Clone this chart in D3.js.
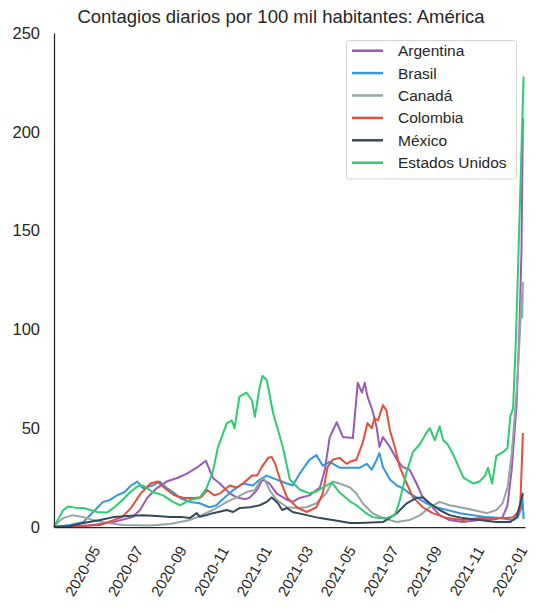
<!DOCTYPE html>
<html>
<head>
<meta charset="utf-8">
<script src="https://cdn.jsdelivr.net/npm/d3@7"></script>
<style>
  html, body { margin: 0; padding: 0; background: #fff; }
  svg { display: block; font-family: "Liberation Sans", Arial, sans-serif; }
</style>
</head>
<body>
<svg id="chart" width="537" height="613"></svg>
<script>
// ---------- DATA ----------
const title = "Contagios diarios por 100 mil habitantes: América";
const countries = ["Argentina", "Brasil", "Canadá", "Colombia", "México", "Estados Unidos"];
const colors = ["#9b59b6", "#3498db", "#95a5a6", "#e74c3c", "#34495e", "#2ecc71"];
const yTicks = [0, 50, 100, 150, 200, 250];
const xTickLabels = ["2020-05","2020-07","2020-09","2020-11","2021-01","2021-03","2021-05","2021-07","2021-09","2021-11","2022-01"];
const dateRange = ["2020-03-22", "2022-01-24"];

const argentina = [
  ["2020-03-22",0],["2020-04-20",0.3],["2020-05-10",0.8],["2020-05-27",1.5],["2020-06-15",2.5],["2020-07-12",5],
  ["2020-07-23",8.6],["2020-08-02",14.7],["2020-08-16",19.7],["2020-08-30",23],["2020-09-14",24.8],["2020-09-28",27],
  ["2020-10-12",30],["2020-10-25",33.5],["2020-10-29",30],["2020-11-04",24.8],["2020-11-14",22],["2020-11-28",17],
  ["2020-12-08",15],["2020-12-20",14],["2020-12-27",15],["2021-01-06",18.7],["2021-01-14",24],["2021-01-24",22],
  ["2021-02-03",17],["2021-02-18",13.7],["2021-02-26",12.7],["2021-03-08",14.7],["2021-03-22",16],["2021-04-06",20],
  ["2021-04-13",29],["2021-04-20",45.5],["2021-04-30",53],["2021-05-09",45.5],["2021-05-23",45],["2021-05-30",73],
  ["2021-06-05",68],["2021-06-09",73],["2021-06-13",66],["2021-06-20",59],["2021-06-26",50.6],["2021-06-30",40.5],
  ["2021-07-05",45.5],["2021-07-15",40.5],["2021-07-25",34],["2021-08-02",30.4],["2021-08-12",29],["2021-08-22",22],
  ["2021-08-31",15],["2021-09-14",10],["2021-09-24",6],["2021-10-08",3.5],["2021-10-27",2.5],["2021-11-20",3.5],
  ["2021-12-14",4],["2021-12-23",5],["2021-12-30",11],["2022-01-05",29],["2022-01-12",62],["2022-01-16",100],
  ["2022-01-19",140],["2022-01-21",207]
];
const brasil = [
  ["2020-03-22",0],["2020-04-14",1],["2020-05-03",2.5],["2020-05-17",7.6],["2020-05-31",12.7],["2020-06-10",13.7],
  ["2020-06-20",16],["2020-07-01",17.7],["2020-07-10",21],["2020-07-19",23],["2020-07-27",19.7],["2020-08-10",21],
  ["2020-08-20",23],["2020-08-30",19.7],["2020-09-08",17.7],["2020-09-18",14.7],["2020-10-02",12.7],["2020-10-16",12],
  ["2020-10-30",10],["2020-11-09",11],["2020-11-18",14],["2020-12-03",18.7],["2020-12-17",22],["2020-12-31",21],
  ["2021-01-10",24],["2021-01-20",26],["2021-02-03",24],["2021-02-18",22],["2021-02-26",21],["2021-03-08",27],
  ["2021-03-22",34],["2021-04-01",36.4],["2021-04-10",31],["2021-04-20",33],["2021-05-04",30],["2021-05-19",30],
  ["2021-06-02",30],["2021-06-12",32],["2021-06-19",29],["2021-06-26",34],["2021-06-30",37.4],["2021-07-05",30.4],
  ["2021-07-15",24],["2021-07-25",21],["2021-08-02",19.7],["2021-08-12",17],["2021-08-22",15],["2021-09-05",12],
  ["2021-09-19",10],["2021-10-05",8.6],["2021-10-23",7],["2021-11-11",6],["2021-12-01",5],["2021-12-19",4.5],
  ["2022-01-07",3.5],["2022-01-14",5],["2022-01-19",10],["2022-01-20",17],["2022-01-22",4]
];
const canada = [
  ["2020-03-22",0],["2020-03-28",2.5],["2020-04-04",4.5],["2020-04-18",6],["2020-05-03",5],["2020-05-17",3.5],
  ["2020-06-06",2],["2020-06-29",1],["2020-08-06",0.7],["2020-09-04",1.5],["2020-09-18",2.5],["2020-10-02",3.5],
  ["2020-10-16",5.5],["2020-11-04",8.6],["2020-11-24",12.7],["2020-12-08",15],["2020-12-22",17.7],["2021-01-03",18.7],
  ["2021-01-13",24.8],["2021-01-17",24],["2021-01-24",18.7],["2021-02-03",13.7],["2021-02-18",10],["2021-03-04",9.6],
  ["2021-03-18",10],["2021-04-01",12],["2021-04-15",17],["2021-04-24",23],["2021-05-04",22],["2021-05-19",20],
  ["2021-05-28",17],["2021-06-06",12],["2021-06-20",7],["2021-07-05",4.5],["2021-07-25",2.5],["2021-08-12",3.5],
  ["2021-08-27",6],["2021-09-10",10],["2021-09-24",12.7],["2021-10-08",11],["2021-10-23",10],["2021-11-11",8.6],
  ["2021-12-01",7],["2021-12-14",8.6],["2021-12-23",12],["2021-12-30",20],["2022-01-05",37],["2022-01-12",68],
  ["2022-01-17",100],["2022-01-19",118],["2022-01-20",106],["2022-01-21",124]
];
const colombia = [
  ["2020-03-22",0],["2020-04-20",0.4],["2020-05-27",1],["2020-06-15",3.5],["2020-06-27",5],["2020-07-10",9.6],
  ["2020-07-24",17],["2020-08-07",22],["2020-08-17",23],["2020-08-27",19.7],["2020-09-10",16],["2020-09-24",14.7],
  ["2020-10-09",14.7],["2020-10-18",15],["2020-10-27",18.7],["2020-11-06",16],["2020-11-14",17],["2020-11-28",21],
  ["2020-12-08",20],["2020-12-17",22],["2020-12-30",26],["2021-01-06",26],["2021-01-13",30.4],["2021-01-22",35],
  ["2021-01-27",35.4],["2021-02-01",32],["2021-02-08",24],["2021-02-18",15],["2021-03-04",10],["2021-03-18",7.6],
  ["2021-04-01",10],["2021-04-10",17],["2021-04-17",30.4],["2021-04-24",34],["2021-05-04",35],["2021-05-14",32],
  ["2021-05-19",33],["2021-05-28",34],["2021-06-06",42.5],["2021-06-13",52.6],["2021-06-19",50],["2021-06-23",55],
  ["2021-06-28",54],["2021-07-05",61.7],["2021-07-10",59],["2021-07-15",49],["2021-07-22",40.5],["2021-07-29",30.4],
  ["2021-08-08",22],["2021-08-17",15],["2021-08-31",10],["2021-09-14",7],["2021-10-05",4.5],["2021-10-27",3.5],
  ["2021-11-20",4.5],["2021-12-14",4.5],["2021-12-30",4.5],["2022-01-07",5],["2022-01-17",8.6],["2022-01-21",47.6]
];
const mexico = [
  ["2020-03-22",0],["2020-04-14",0.5],["2020-05-03",2],["2020-05-27",3.5],["2020-06-15",5],["2020-07-05",5.6],
  ["2020-07-27",6],["2020-08-16",5.6],["2020-09-04",5],["2020-09-22",5],["2020-10-02",4.5],["2020-10-12",7],
  ["2020-10-16",5.2],["2020-10-26",6],["2020-11-04",7],["2020-11-24",8.6],["2020-12-03",7.6],["2020-12-12",9.6],
  ["2020-12-27",10],["2021-01-10",11],["2021-01-20",12.7],["2021-01-27",15],["2021-02-05",12],["2021-02-11",8.6],
  ["2021-02-18",9.6],["2021-02-26",7.6],["2021-03-18",6],["2021-04-06",4.5],["2021-04-24",3.5],["2021-05-19",2],
  ["2021-06-02",2],["2021-07-05",2.5],["2021-07-25",7],["2021-08-08",12],["2021-08-22",14.7],["2021-08-31",15],
  ["2021-09-10",12],["2021-09-24",8.6],["2021-10-08",6],["2021-10-27",4.5],["2021-11-20",3.5],["2021-12-14",2.5],
  ["2022-01-03",2.5],["2022-01-12",5],["2022-01-21",17]
];
const estadosUnidos = [
  ["2020-03-22",0],["2020-03-28",4],["2020-04-04",8.5],["2020-04-11",10.4],["2020-04-21",9.8],["2020-05-03",9.6],
  ["2020-05-13",8.6],["2020-05-23",7.6],["2020-06-06",7.4],["2020-06-15",9.6],["2020-06-28",13.7],["2020-07-09",17.7],
  ["2020-07-19",20.5],["2020-07-27",21],["2020-08-10",17.7],["2020-08-25",16],["2020-09-08",12.7],["2020-09-18",11],
  ["2020-10-02",13.7],["2020-10-16",14.7],["2020-10-26",19.7],["2020-11-04",28],["2020-11-11",40],["2020-11-24",52.6],
  ["2020-12-01",54],["2020-12-05",50],["2020-12-12",66],["2020-12-22",68],["2020-12-30",64],["2021-01-03",55.7],
  ["2021-01-10",71],["2021-01-14",76.4],["2021-01-20",74.4],["2021-01-29",57.7],["2021-02-12",40.5],["2021-02-22",24],
  ["2021-03-08",19],["2021-03-22",17],["2021-04-01",18],["2021-04-10",20],["2021-04-23",22.5],["2021-05-04",17.5],
  ["2021-05-19",13],["2021-05-28",11],["2021-06-11",7],["2021-06-20",5],["2021-06-30",4.5],["2021-07-10",4.5],
  ["2021-07-22",6],["2021-07-28",12],["2021-08-08",28],["2021-08-17",38],["2021-08-27",42],["2021-09-04",47],
  ["2021-09-10",50],["2021-09-17",44],["2021-09-24",51],["2021-09-29",44],["2021-10-05",42],["2021-10-13",37],
  ["2021-10-28",25],["2021-11-11",22],["2021-11-20",23],["2021-11-28",26],["2021-12-02",30],["2021-12-08",22],
  ["2021-12-14",36],["2021-12-24",38],["2021-12-30",40],["2022-01-03",56],["2022-01-07",60],["2022-01-11",95],
  ["2022-01-14",130],["2022-01-22",228]
];
const seriesValues = [argentina, brasil, canada, colombia, mexico, estadosUnidos];

// ---------- CHART ----------
const W = 537, H = 613;
const margin = {left: 54, right: 12, top: 33, bottom: 86};
const parse = d3.utcParse("%Y-%m-%d");
const svg = d3.select("#chart");

const x = d3.scaleUtc()
  .domain(dateRange.map(parse))
  .range([margin.left, W - margin.right]);
const y = d3.scaleLinear()
  .domain([0, 250])
  .range([H - margin.bottom, margin.top]);

const textColor = "#262626";

// title
svg.append("text")
  .attr("x", 281).attr("y", 23)
  .attr("text-anchor", "middle")
  .attr("font-size", 18.5)
  .attr("fill", textColor)
  .text(title);

// lines
const line = d3.line()
  .x(d => x(parse(d[0])))
  .y(d => y(d[1]))
  .curve(d3.curveLinear);

const g = svg.append("g");
seriesValues.forEach((vals, i) => {
  g.append("path")
    .datum(vals)
    .attr("fill", "none")
    .attr("stroke", colors[i])
    .attr("stroke-width", 2)
    .attr("stroke-linejoin", "round")
    .attr("d", line);
});

// axes
const yAxis = d3.axisLeft(y).tickValues(yTicks).tickSize(0).tickPadding(14);
const yG = svg.append("g")
  .attr("transform", `translate(${margin.left},0)`)
  .call(yAxis);
yG.select(".domain").attr("stroke", textColor).attr("stroke-width", 1.25);
yG.selectAll("text").attr("font-size", 16.5).attr("fill", textColor)
  .attr("font-family", '"Liberation Sans", Arial, sans-serif');

const xTickDates = xTickLabels.map(s => parse(s + "-01"));
const xAxis = d3.axisBottom(x).tickValues(xTickDates).tickSize(0)
  .tickFormat(d3.utcFormat("%Y-%m"));
const xG = svg.append("g")
  .attr("transform", `translate(0,${H - margin.bottom})`)
  .call(xAxis);
xG.select(".domain").attr("stroke", textColor).attr("stroke-width", 1.25);
xG.selectAll("text")
  .attr("font-size", 15)
  .attr("fill", textColor)
  .attr("font-family", '"Liberation Sans", Arial, sans-serif')
  .attr("text-anchor", "middle")
  .attr("dy", null)
  .attr("y", null)
  .attr("dominant-baseline", "central")
  .attr("transform", "translate(0,44) rotate(-60)");

// legend
const lg = svg.append("g");
lg.append("rect")
  .attr("x", 346.5).attr("y", 40.5)
  .attr("width", 170).attr("height", 138.5)
  .attr("rx", 3).attr("ry", 3)
  .attr("fill", "#fff").attr("fill-opacity", 0.85)
  .attr("stroke", "#d5d5d5").attr("stroke-width", 1);
countries.forEach((c, i) => {
  const yy = 50.7 + i * 22.4;
  lg.append("line")
    .attr("x1", 352).attr("x2", 383)
    .attr("y1", yy).attr("y2", yy)
    .attr("stroke", colors[i]).attr("stroke-width", 2.5);
  lg.append("text")
    .attr("x", 398).attr("y", yy)
    .attr("dominant-baseline", "central")
    .attr("font-size", 15.5)
    .attr("fill", textColor)
    .text(c);
});
</script>
</body>
</html>
